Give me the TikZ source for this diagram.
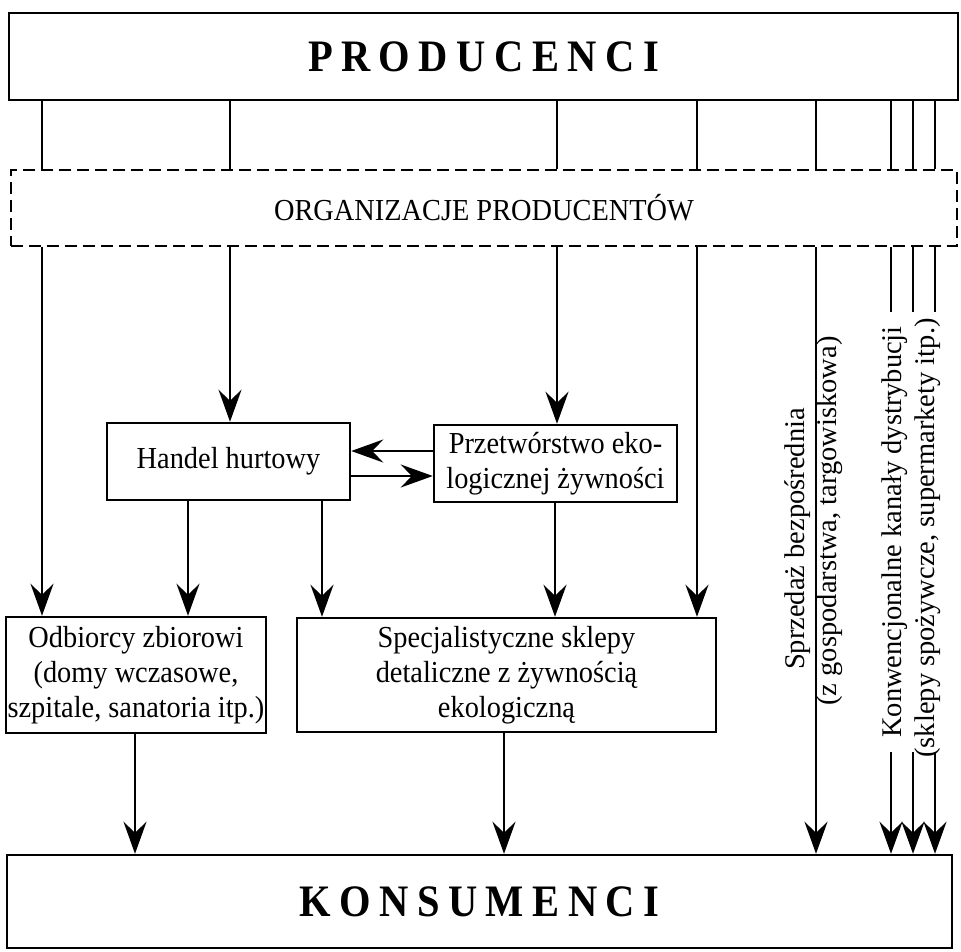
\documentclass[tikz,border=0pt]{standalone}
\usepackage{fontspec}
\setmainfont{Liberation Serif}
\newfontfamily\condfont[FakeStretch=0.93]{Liberation Serif}
\newfontfamily\bigcondfont[FakeStretch=0.9]{Liberation Serif}
\usetikzlibrary{arrows.meta}
\newcommand{\mysp}{\hspace{8.5pt}}
\begin{document}
\begin{tikzpicture}[x=1pt,y=-1pt,
  box/.style={draw, line width=2.5pt, rectangle, inner sep=0pt, align=center, font=\condfont\fontsize{30.5}{35}\selectfont},
  dbox/.style={box, dash pattern=on 12pt off 6pt, line width=2.7pt},
  big/.style={font=\bigcondfont\fontsize{45}{50}\selectfont\bfseries},
  conn/.style={line width=2.1pt},
  arr/.style={conn, -{Stealth[length=32pt,width=23pt,inset=11pt]}},
  rot/.style={rotate=90, inner sep=0pt, font=\fontsize{28.5}{35}\selectfont}]
\useasboundingbox (0,0) rectangle (961,951);

% boxes
\node[box, big, minimum width=949pt, minimum height=87pt] (prod) at (483.5,56.5)
  {P\mysp R\mysp O\mysp D\mysp U\mysp C\mysp E\mysp N\mysp C\mysp I};
\node[dbox, minimum width=946pt, minimum height=76pt] (org) at (484,208) {ORGANIZACJE PRODUCENTÓW};
\node[box, minimum width=243pt, minimum height=77pt] (hand) at (228.5,461.5) {Handel hurtowy};
\node[box, minimum width=243pt, minimum height=77pt] (przet) at (555.5,463.5) {Przetwórstwo eko-\\logicznej żywności};
\node[box, minimum width=260pt, minimum height=116pt] (odb) at (136,675) {Odbiorcy zbiorowi\\(domy wczasowe,\\szpitale, sanatoria itp.)};
\node[box, minimum width=419pt, minimum height=114pt] (spec) at (506.5,675) {Specjalistyczne sklepy\\detaliczne z żywnością\\ekologiczną};
\node[box, big, minimum width=945pt, minimum height=93pt] (kons) at (479.5,901.5)
  {K\mysp O\mysp N\mysp S\mysp U\mysp M\mysp E\mysp N\mysp C\mysp I};

% rotated labels
\node[rot] (t1) at (798,539) {Sprzedaż bezpośrednia};
\node[rot] (t2) at (830,521) {(z gospodarstwa, targowiskowa)};
\node[rot] (t3) at (895,532) {Konwencjonalne kanały dystrybucji};
\node[rot] (t4) at (928,538) {(sklepy spożywcze, supermarkety itp.)};

% column coordinates
\coordinate (c1) at (42,0);
\coordinate (c2) at (230,0);
\coordinate (c3) at (557,0);
\coordinate (c4) at (697,0);
\coordinate (c5) at (816,0);
\coordinate (c6) at (891,0);
\coordinate (c7) at (913,0);
\coordinate (c8) at (935,0);
\coordinate (h1) at (188,0);
\coordinate (h2) at (322,0);
\coordinate (p1) at (555,0);
\coordinate (o1) at (135,0);
\coordinate (s1) at (504,0);
\coordinate (ya) at (0,451);
\coordinate (yb) at (0,476);
\coordinate (k6a) at (891,312);
\coordinate (k7a) at (913,312);
\coordinate (k8a) at (935,312);
\coordinate (k6b) at (891,752);
\coordinate (k7b) at (913,752);
\coordinate (k8b) at (935,752);

% producers to organisations
\foreach \c in {c1,c2,c3,c4,c5,c6,c7,c8}
  \draw[conn] (prod.south -| \c) -- (org.north -| \c);

% from organisations
\draw[arr] (org.south -| c1) -- (odb.north -| c1);
\draw[arr] (org.south -| c2) -- (hand.north -| c2);
\draw[arr] (org.south -| c3) -- (przet.north -| c3);
\draw[arr] (org.south -| c4) -- (spec.north -| c4);
\draw[arr] (org.south -| c5) -- (kons.north -| c5);
\draw[conn] (org.south -| c6) -- (k6a);
\draw[conn] (org.south -| c7) -- (k7a);
\draw[conn] (org.south -| c8) -- (k8a);
\draw[arr] (k6b) -- (kons.north -| k6b);
\draw[arr] (k7b) -- (kons.north -| k7b);
\draw[arr] (k8b) -- (kons.north -| k8b);

% between middle boxes
\draw[arr] (przet.west |- ya) -- (hand.east |- ya);
\draw[arr] (hand.east |- yb) -- (przet.west |- yb);
\draw[arr] (hand.south -| h1) -- (odb.north -| h1);
\draw[arr] (hand.south -| h2) -- (spec.north -| h2);
\draw[arr] (przet.south -| p1) -- (spec.north -| p1);

% to consumers
\draw[arr] (odb.south -| o1) -- (kons.north -| o1);
\draw[arr] (spec.south -| s1) -- (kons.north -| s1);
\end{tikzpicture}
\end{document}
